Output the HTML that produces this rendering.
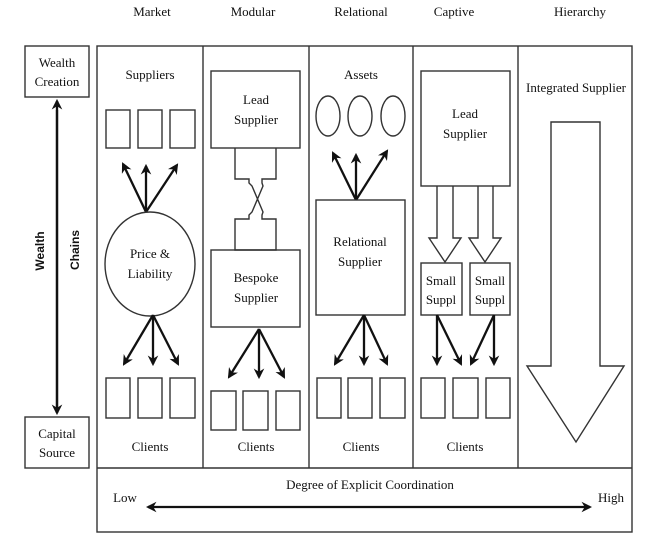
<!DOCTYPE html>
<html><head><meta charset="utf-8"><style>
html,body{margin:0;padding:0;background:#fff;}
svg{display:block;}
text{font-family:"Liberation Serif",serif;font-size:13px;fill:#111;text-anchor:middle;}
.b{fill:none;stroke:#333;stroke-width:1.4;}
.a{stroke:#111;stroke-width:2.3;fill:none;}
</style></head><body>
<svg width="666" height="546" viewBox="0 0 666 546">
<defs><marker id="ah" viewBox="0 0 10 10" refX="8" refY="5" markerWidth="4.6" markerHeight="4.6" orient="auto"><path d="M0,0 L10,5 L0,10 L3,5 z" fill="#111"/></marker></defs>
<g>
<text x="152" y="16">Market</text>
<text x="253" y="16">Modular</text>
<text x="361" y="16">Relational</text>
<text x="454" y="16">Captive</text>
<text x="580" y="16">Hierarchy</text>
</g>
<g>
<rect class="b" x="25" y="46" width="64" height="51"/>
<text x="57" y="67">Wealth</text><text x="57" y="86">Creation</text>
<rect class="b" x="25" y="417" width="64" height="51"/>
<text x="57" y="438">Capital</text><text x="57" y="457">Source</text>
<line class="a" x1="57" y1="412" x2="57" y2="101" marker-end="url(#ah)"/>
<line class="a" x1="57" y1="110" x2="57" y2="413" marker-end="url(#ah)"/>
<text transform="translate(44,251) rotate(-90)" style="font-family:'Liberation Sans',sans-serif;font-weight:bold;font-size:12px">Wealth</text>
<text transform="translate(79,250) rotate(-90)" style="font-family:'Liberation Sans',sans-serif;font-weight:bold;font-size:12px">Chains</text>
</g>
<g>
<rect class="b" x="97" y="46" width="535" height="486"/>
<line class="b" x1="97" y1="468" x2="632" y2="468"/>
<line class="b" x1="203" y1="46" x2="203" y2="468"/>
<line class="b" x1="309" y1="46" x2="309" y2="468"/>
<line class="b" x1="413" y1="46" x2="413" y2="468"/>
<line class="b" x1="518" y1="46" x2="518" y2="468"/>
</g>
<g>
<text x="150" y="79">Suppliers</text>
<rect class="b" x="106" y="110" width="24" height="38"/><rect class="b" x="138" y="110" width="24" height="38"/><rect class="b" x="170" y="110" width="25" height="38"/>
<line class="a" x1="146" y1="212" x2="123" y2="164" marker-end="url(#ah)"/>
<line class="a" x1="146" y1="212" x2="146" y2="166" marker-end="url(#ah)"/>
<line class="a" x1="146" y1="212" x2="177" y2="165" marker-end="url(#ah)"/>
<ellipse class="b" cx="150" cy="264" rx="45" ry="52"/>
<text x="150" y="258">Price &amp;</text><text x="150" y="278">Liability</text>
<line class="a" x1="153" y1="315" x2="124" y2="364" marker-end="url(#ah)"/>
<line class="a" x1="153" y1="315" x2="153" y2="364" marker-end="url(#ah)"/>
<line class="a" x1="153" y1="315" x2="178" y2="364" marker-end="url(#ah)"/>
<rect class="b" x="106" y="378" width="24" height="40"/><rect class="b" x="138" y="378" width="24" height="40"/><rect class="b" x="170" y="378" width="25" height="40"/>
<text x="150" y="451">Clients</text>
</g>
<g>
<rect class="b" x="211" y="71" width="89" height="77"/>
<text x="256" y="104">Lead</text><text x="256" y="124">Supplier</text>
<path class="b" d="M235,148 L235,179 L249,179 L249,183 L252,186 L263,212 L262,215 L262,219 L276,219 L276,250 L235,250 L235,219 L249,219 L249,215 L252,212 L263,186 L262,183 L262,179 L276,179 L276,148"/>
<rect class="b" x="211" y="250" width="89" height="77"/>
<text x="256" y="282">Bespoke</text><text x="256" y="302">Supplier</text>
<line class="a" x1="259" y1="329" x2="229" y2="377" marker-end="url(#ah)"/>
<line class="a" x1="259" y1="329" x2="259" y2="377" marker-end="url(#ah)"/>
<line class="a" x1="259" y1="329" x2="284" y2="377" marker-end="url(#ah)"/>
<rect class="b" x="211" y="391" width="25" height="39"/><rect class="b" x="243" y="391" width="25" height="39"/><rect class="b" x="276" y="391" width="24" height="39"/>
<text x="256" y="451">Clients</text>
</g>
<g>
<text x="361" y="79">Assets</text>
<ellipse class="b" cx="328" cy="116" rx="12" ry="20"/><ellipse class="b" cx="360" cy="116" rx="12" ry="20"/><ellipse class="b" cx="393" cy="116" rx="12" ry="20"/>
<line class="a" x1="356" y1="200" x2="333" y2="153" marker-end="url(#ah)"/>
<line class="a" x1="356" y1="200" x2="356" y2="155" marker-end="url(#ah)"/>
<line class="a" x1="356" y1="200" x2="387" y2="151" marker-end="url(#ah)"/>
<rect class="b" x="316" y="200" width="89" height="115"/>
<text x="360" y="246">Relational</text><text x="360" y="266">Supplier</text>
<line class="a" x1="364" y1="315" x2="335" y2="364" marker-end="url(#ah)"/>
<line class="a" x1="364" y1="315" x2="364" y2="364" marker-end="url(#ah)"/>
<line class="a" x1="364" y1="315" x2="387" y2="364" marker-end="url(#ah)"/>
<rect class="b" x="317" y="378" width="24" height="40"/><rect class="b" x="348" y="378" width="24" height="40"/><rect class="b" x="380" y="378" width="25" height="40"/>
<text x="361" y="451">Clients</text>
</g>
<g>
<rect class="b" x="421" y="71" width="89" height="115"/>
<text x="465" y="118">Lead</text><text x="465" y="138">Supplier</text>
<path class="b" d="M437,186 L437,238 L429,238 L445,262 L461,238 L453,238 L453,186"/>
<path class="b" d="M478,186 L478,238 L469,238 L485,262 L501,238 L493,238 L493,186"/>
<rect class="b" x="421" y="263" width="41" height="52"/><rect class="b" x="470" y="263" width="40" height="52"/>
<text x="441" y="285">Small</text><text x="441" y="304">Suppl</text>
<text x="490" y="285">Small</text><text x="490" y="304">Suppl</text>
<line class="a" x1="437" y1="315" x2="437" y2="364" marker-end="url(#ah)"/>
<line class="a" x1="437" y1="315" x2="461" y2="364" marker-end="url(#ah)"/>
<line class="a" x1="494" y1="315" x2="471" y2="364" marker-end="url(#ah)"/>
<line class="a" x1="494" y1="315" x2="494" y2="364" marker-end="url(#ah)"/>
<rect class="b" x="421" y="378" width="24" height="40"/><rect class="b" x="453" y="378" width="25" height="40"/><rect class="b" x="486" y="378" width="24" height="40"/>
<text x="465" y="451">Clients</text>
</g>
<g>
<text x="576" y="92">Integrated Supplier</text>
<path class="b" d="M551,122 L600,122 L600,366 L624,366 L576,442 L527,366 L551,366 Z"/>
</g>
<g>
<text x="370" y="489">Degree of Explicit Coordination</text>
<text x="125" y="502">Low</text>
<text x="611" y="502">High</text>
<line class="a" x1="360" y1="507" x2="148" y2="507" marker-end="url(#ah)"/>
<line class="a" x1="360" y1="507" x2="590" y2="507" marker-end="url(#ah)"/>
</g>
</svg>
</body></html>
